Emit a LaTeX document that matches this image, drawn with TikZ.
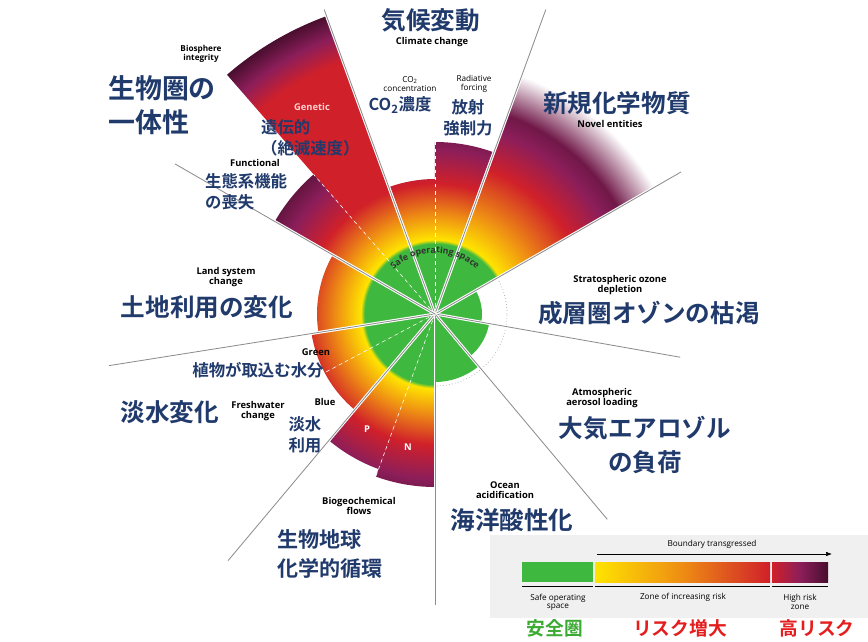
\documentclass[tikz,border=0pt]{standalone}
\usepackage{fontspec}
\setmainfont{Open Sans}
\newfontfamily\jp{Noto Sans CJK JP}[BoldFont={Noto Sans CJK JP Bold}]
\usetikzlibrary{arrows.meta,decorations.text}

\definecolor{pbgreen}{RGB}{62,184,62}
\definecolor{pbyellow}{RGB}{255,228,0}
\definecolor{pborange}{RGB}{238,140,20}
\definecolor{pbred}{RGB}{208,32,42}
\definecolor{pbmag}{RGB}{140,30,90}
\definecolor{pbdark}{RGB}{72,14,46}
\definecolor{pbnavy}{RGB}{32,58,108}
\definecolor{pblabred}{RGB}{228,30,30}
\definecolor{pblabgreen}{RGB}{60,170,50}

% radius r (px) sits at r*25/320 bp
\pgfdeclareradialshading{pbrisk}{\pgfpointorigin}{color(0bp)=(pbgreen); color(5.5bp)=(pbgreen);
  color(5.8bp)=(pbyellow); color(7.8bp)=(pborange); color(10.2bp)=(pbred); color(12.9bp)=(pbmag);
  color(15.6bp)=(pbdark); color(50bp)=(pbdark)}
\pgfdeclareradialshading{pbgenetic}{\pgfpointorigin}{color(0bp)=(pbgreen); color(5.5bp)=(pbgreen);
  color(5.8bp)=(pbyellow); color(7.8bp)=(pborange); color(10.2bp)=(pbred); color(21bp)=(pbred);
  color(23bp)=(pbmag); color(24.8bp)=(pbdark); color(50bp)=(pbdark)}
\pgfdeclareradialshading{pbnovel}{\pgfpointorigin}{color(0bp)=(pbgreen); color(5.5bp)=(pbgreen);
  color(5.8bp)=(pbyellow); color(8.5bp)=(pborange); color(12bp)=(pbred); color(15bp)=(pbmag);
  color(16.5bp)=(pbmag!80!black); color(19.8bp)=(white); color(50bp)=(white)}

% wedge: start angle, end angle, radius, shading
\newcommand\pbwedge[4]{%
  \begin{scope}
    \clip (0,0) -- (#1:#3) arc[start angle=#1, end angle=#2, radius=#3] -- cycle;
    \shade[shading=#4] (0,0) circle (320);
  \end{scope}}

\begin{document}
\begin{tikzpicture}[x=0.3mm, y=0.3mm,
    en/.style={font=\fontsize{8}{9}\selectfont\bfseries, align=center},
    jpbig/.style={font=\fontsize{21}{29}\selectfont\jp\bfseries, text=pbnavy, align=center},
    jpmid/.style={font=\fontsize{14}{18}\selectfont\jp\bfseries, text=pbnavy, align=center},
    jpleg/.style={font=\fontsize{16}{18}\selectfont\jp\bfseries},
    sector/.style={draw=white, line width=2.5pt},
    border/.style={draw=black!45, line width=0.7pt},
    split/.style={draw=white, dashed, line width=0.5pt}]
  \useasboundingbox (-435,-328) rectangle (433,314);

  \coordinate (centre) at (0,0);
  \draw[black!35, dotted, line width=0.6pt] (centre) circle (72);

  % boundaries
  \pbwedge{110}{131}{317}{pbgenetic}
  \pbwedge{131}{150}{185}{pbrisk}
  \pbwedge{150}{189}{118}{pbrisk}
  \pbwedge{189}{208}{125}{pbrisk}
  \pbwedge{208}{230}{125}{pbrisk}
  \pbwedge{230}{250}{165}{pbrisk}
  \pbwedge{250}{270}{173}{pbrisk}
  \pbwedge{90}{110}{135}{pbrisk}
  \pbwedge{70}{90}{172}{pbrisk}
  \pbwedge{30}{70}{300}{pbnovel}
  \fill[pbgreen] (0,0) -- (-10:47) arc[start angle=-10, end angle=30, radius=47] -- cycle;
  \fill[pbgreen] (0,0) -- (-50:55) arc[start angle=-50, end angle=-10, radius=55] -- cycle;
  \fill[pbgreen] (0,0) -- (-90:68) arc[start angle=-90, end angle=-50, radius=68] -- cycle;

  \foreach \a/\r in {90/172, 131/185, 208/125, 250/173}
    \draw[split] (centre) -- (\a:\r);

  % sector lines
  \foreach \a/\r [count=\i] in {110/324, 70/324, 30/284, -10/249, -50/268, -90/291, 230/322, 189/330, 150/300} {
    \coordinate (tip\i) at (\a:\r);
    \draw[sector] (centre) -- (tip\i);
    \draw[border] (centre) -- (tip\i);
  }

  \path[decorate, decoration={text along path, text align=center,
      text={|\fontsize{7.5}{7.5}\selectfont\bfseries\color{black!80}|Safe operating space}}]
    (132:61) arc[start angle=132, end angle=48, radius=61];

  % labels
  \node[jpbig] (climateJ) at (-4,294) {気候変動};
  \node[en] (climate) at (-3,272) {Climate change};
  \node[en, font=\fontsize{7}{8}\selectfont] (co2) at (-25,230) {CO\textsubscript{2}\\concentration};
  \node[jpmid] (co2J) at (-35,209) {CO\textsubscript{2}濃度};
  \node[en, font=\fontsize{7}{8}\selectfont] (forcing) at (39,230) {Radiative\\forcing};
  \node[jpmid] (forcingJ) at (33,196) {放射\\強制力};
  \node[jpbig] (novelJ) at (182,211) {新規化学物質};
  \node[en] (novel) at (175,190) {Novel entities};
  \node[en] (ozone) at (185,29) {Stratospheric ozone\\depletion};
  \node[jpbig] (ozoneJ) at (214,1) {成層圏オゾンの枯渇};
  \node[en] (aerosol) at (167,-84) {Atmospheric\\aerosol loading};
  \node[jpbig] (aerosolJ) at (210,-131) {大気エアロゾル\\の負荷};
  \node[en] (ocean) at (70,-176) {Ocean\\acidification};
  \node[jpbig] (oceanJ) at (77,-206) {海洋酸性化};
  \node[en] (biogeo) at (-76,-192) {Biogeochemical\\flows};
  \node[jpbig, font=\fontsize{18}{25}\selectfont\jp\bfseries, align=left, anchor=west] (biogeoJ) at (-162,-240) {生物地球\\化学的循環};
  \node[en] (fresh) at (-177,-97) {Freshwater\\change};
  \node[jpbig] (freshJ) at (-265,-98) {淡水変化};
  \node[en] (green) at (-119,-38) {Green};
  \node[jpmid] (greenJ) at (-177,-56) {植物が取込む水分};
  \node[en] (blue) at (-110,-88) {Blue};
  \node[jpmid] (blueJ) at (-130,-121) {淡水\\利用};
  \node[en, text=white] (phos) at (-68,-115) {P};
  \node[en, text=white] (nitro) at (-27,-133) {N};
  \node[en] (land) at (-209,37) {Land system\\change};
  \node[jpbig] (landJ) at (-228,7) {土地利用の変化};
  \node[en, font=\fontsize{7}{8}\selectfont\bfseries] (bio) at (-234,260) {Biosphere\\integrity};
  \node[jpbig, font=\fontsize{23}{29}\selectfont\jp\bfseries, align=left, anchor=west] (bioJ) at (-331,209) {生物圏の\\一体性};
  \node[en, text=pink!70!white] (genetic) at (-123,207) {Genetic};
  \node[jpmid, align=left, anchor=west] (geneticJ) at (-178,176) {遺伝的\\（絶滅速度）};
  \node[en] (functional) at (-180,151) {Functional};
  \node[jpmid, align=left, anchor=west] (functionalJ) at (-234,122) {生態系機能\\の喪失};

  % legend
  \fill[black!6] (55,-221) rectangle (433,-304);
  \node[en, font=\fontsize{7}{8}\selectfont] (transgressed) at (277,-230) {Boundary transgressed};
  \coordinate (arrowS) at (162,-240);
  \coordinate (arrowE) at (397,-240);
  \draw[-{Latex[length=5pt]}, line width=0.5pt] (arrowS) -- (arrowE);
  \fill[pbgreen] (87,-248) rectangle (158,-268);
  \shade[left color=pbyellow, right color=pbred, middle color=pborange] (160,-248) rectangle (335,-268);
  \shade[left color=pbred, right color=pbdark, middle color=pbmag] (337,-248) rectangle (393,-268);
  \foreach \xa/\xb in {87/158, 160/335, 337/393}
    \draw[line width=0.5pt] (\xa,-272) -- (\xb,-272);
  \node[en, font=\fontsize{7}{7}\selectfont] (safe) at (123,-288) {Safe operating\\space};
  \node[en, font=\fontsize{7}{7}\selectfont] (zone) at (248,-283) {Zone of increasing risk};
  \node[en, font=\fontsize{7}{7}\selectfont] (high) at (365,-288) {High risk\\zone};
  \node[jpleg, text=pblabgreen] (safeJ) at (120,-314) {安全圏};
  \node[jpleg, text=pblabred] (zoneJ) at (245,-314) {リスク増大};
  \node[jpleg, text=pblabred] (highJ) at (382,-314) {高リスク};
\end{tikzpicture}
\end{document}
